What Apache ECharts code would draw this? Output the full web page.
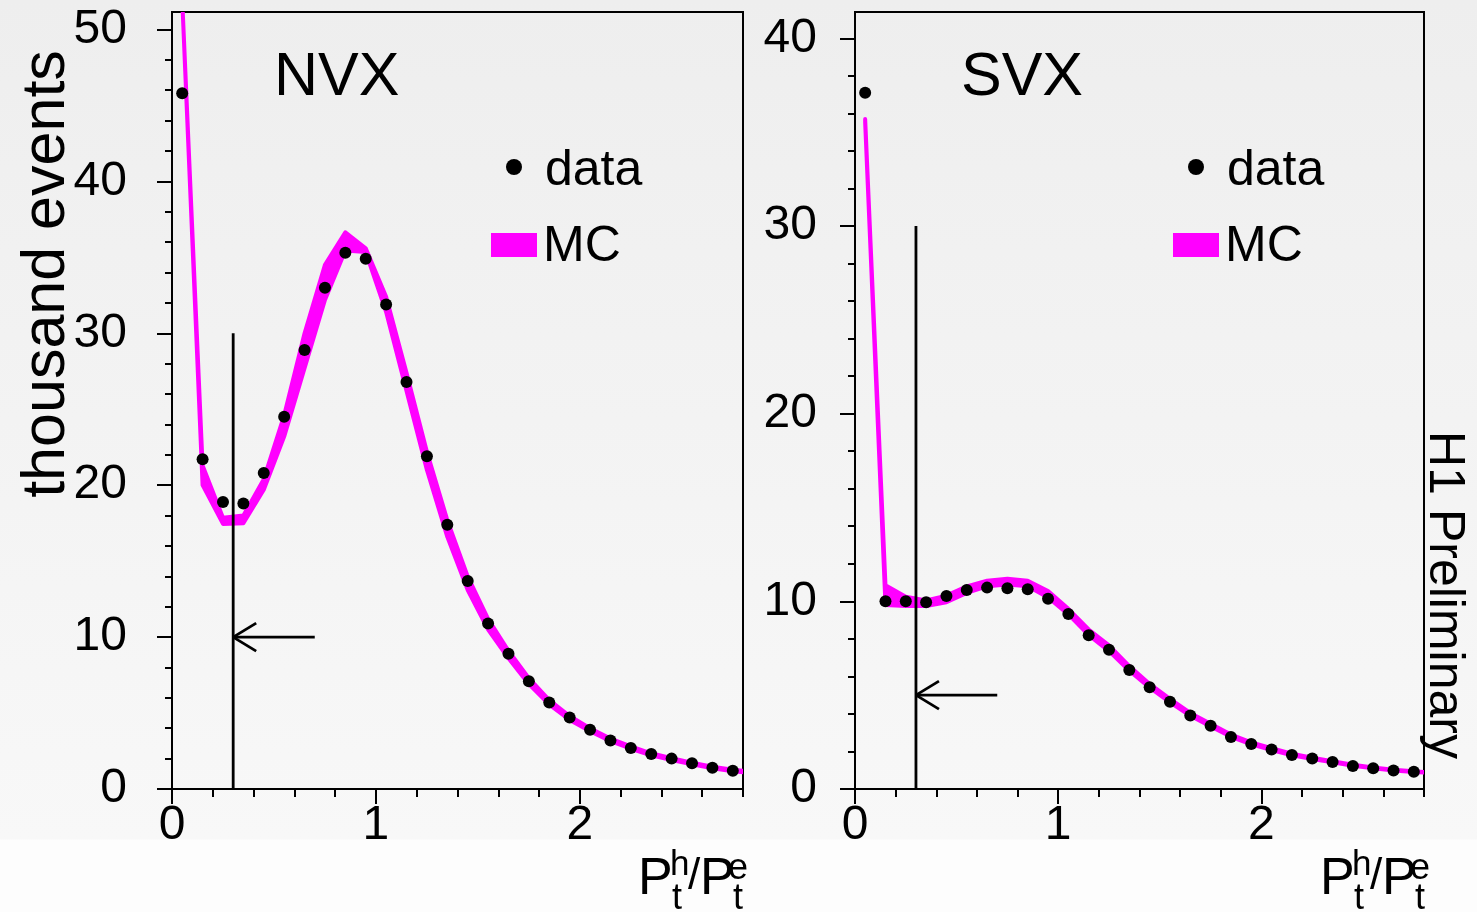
<!DOCTYPE html>
<html>
<head>
<meta charset="utf-8">
<script src="https://cdn.jsdelivr.net/npm/echarts@6/dist/echarts.min.js"></script>
<style>
  html, body { margin: 0; padding: 0; background: #fdfdfd; }
  #chart { width: 1477px; height: 912px; }
</style>
</head>
<body>
<div id="chart"></div>
<script>
// Bin centres of the Pt(h)/Pt(e) histograms (bin width 0.1)
const binCenters = [0.05, 0.15, 0.25, 0.35, 0.45, 0.55, 0.65, 0.75, 0.85, 0.95,
  1.05, 1.15, 1.25, 1.35, 1.45, 1.55, 1.65, 1.75, 1.85, 1.95,
  2.05, 2.15, 2.25, 2.35, 2.45, 2.55, 2.65, 2.75];
// MC band also carries the next bin so the band runs to the frame edge
const mcCenters = [0.05, 0.15, 0.25, 0.35, 0.45, 0.55, 0.65, 0.75, 0.85, 0.95,
  1.05, 1.15, 1.25, 1.35, 1.45, 1.55, 1.65, 1.75, 1.85, 1.95,
  2.05, 2.15, 2.25, 2.35, 2.45, 2.55, 2.65, 2.75, 2.85];

// NVX sample (thousand events)
const nvxData = [45.8, 21.7, 18.9, 18.8, 20.8, 24.5, 28.9, 33.0, 35.3, 34.9,
  31.9, 26.8, 21.9, 17.4, 13.7, 10.9, 8.9, 7.1, 5.7, 4.7,
  3.9, 3.2, 2.7, 2.3, 2.0, 1.7, 1.4, 1.2];
const nvxMcLow = [52, 20.0, 17.45, 17.5, 19.7, 23.2, 27.7, 32.2, 35.45, 35.35,
  31.4, 26.2, 21.0, 16.6, 13.1, 10.5, 8.6, 6.9, 5.55, 4.55,
  3.8, 3.15, 2.65, 2.22, 1.9, 1.62, 1.36, 1.17, 1.04];
const nvxMcHigh = [52, 21.3, 17.85, 18.0, 20.4, 24.6, 30.0, 34.5, 36.65, 35.6,
  32.4, 27.4, 22.2, 17.7, 14.0, 11.2, 9.1, 7.3, 5.85, 4.8,
  4.0, 3.32, 2.8, 2.35, 2.02, 1.73, 1.46, 1.27, 1.13];

// SVX sample (thousand events)
const svxData = [37.1, 10.0, 10.0, 9.95, 10.28, 10.6, 10.73, 10.7, 10.64, 10.14,
  9.32, 8.19, 7.42, 6.34, 5.42, 4.65, 3.92, 3.37, 2.77, 2.40,
  2.11, 1.81, 1.63, 1.44, 1.23, 1.10, 0.98, 0.92];
const svxMcLow = [35.5, 9.8, 9.75, 9.75, 9.95, 10.45, 10.8, 10.9, 10.8, 10.2,
  9.3, 8.2, 7.35, 6.3, 5.4, 4.62, 3.9, 3.33, 2.78, 2.38,
  2.08, 1.8, 1.6, 1.42, 1.24, 1.1, 0.98, 0.9, 0.85];
const svxMcHigh = [35.7, 10.85, 10.25, 10.05, 10.3, 10.8, 11.1, 11.2, 11.1, 10.55,
  9.6, 8.5, 7.65, 6.55, 5.6, 4.8, 4.05, 3.47, 2.9, 2.48,
  2.17, 1.88, 1.67, 1.48, 1.29, 1.15, 1.02, 0.94, 0.88];

// Axis ranges and tick values
const xMax = 2.8;
const xMajorTicks = [0, 1, 2];
const xMinorTicks = [0.2, 0.4, 0.6, 0.8, 1.2, 1.4, 1.6, 1.8, 2.2, 2.4, 2.6, 2.8];
const nvxYMax = 51.15;
const nvxYMajor = [0, 10, 20, 30, 40, 50];
const nvxYMinor = [2, 4, 6, 8, 12, 14, 16, 18, 22, 24, 26, 28, 32, 34, 36, 38, 42, 44, 46, 48];
const svxYMax = 41.4;
const svxYMajor = [0, 10, 20, 30, 40];
const svxYMinor = [2, 4, 6, 8, 12, 14, 16, 18, 22, 24, 26, 28, 32, 34, 36, 38];

// Selection cut at Pt(h)/Pt(e) > 0.3
const cutPosition = 0.3;
const cutLineTop = 30;
const arrowTail = 0.7;
const nvxArrowLevel = 10;
const svxArrowLevel = 5;

const FONT = '"Liberation Sans", Arial, Helvetica, sans-serif';
const MAGENTA = '#ff00ff';

const chart = echarts.init(document.getElementById('chart'), null, { renderer: 'canvas' });

function majorXAxis(gridIndex) {
  return {
    gridIndex, type: 'value', min: 0, max: xMax, position: 'bottom',
    axisLine: { lineStyle: { color: '#000', width: 2 } },
    axisTick: { customValues: xMajorTicks, length: 15, lineStyle: { color: '#000', width: 2 } },
    axisLabel: { customValues: xMajorTicks, margin: 13, fontSize: 48, color: '#000', fontFamily: FONT },
    splitLine: { show: false }
  };
}
function minorXAxis(gridIndex) {
  return {
    gridIndex, type: 'value', min: 0, max: xMax, position: 'bottom',
    axisLine: { show: false },
    axisTick: { customValues: xMinorTicks, length: 8, lineStyle: { color: '#000', width: 2 } },
    axisLabel: { show: false },
    splitLine: { show: false }
  };
}
function majorYAxis(gridIndex, max, ticks, margin) {
  return {
    gridIndex, type: 'value', min: 0, max, position: 'left',
    axisLine: { show: true, lineStyle: { color: '#000', width: 2 } },
    axisTick: { show: true, customValues: ticks, length: 15, lineStyle: { color: '#000', width: 2 } },
    axisLabel: { customValues: ticks, margin, fontSize: 48, color: '#000', fontFamily: FONT },
    splitLine: { show: false }
  };
}
function minorYAxis(gridIndex, max, ticks) {
  return {
    gridIndex, type: 'value', min: 0, max, position: 'left',
    axisLine: { show: false },
    axisTick: { show: true, customValues: ticks, length: 7, lineStyle: { color: '#000', width: 2 } },
    axisLabel: { show: false },
    splitLine: { show: false }
  };
}

// Filled MC uncertainty band between the low and high curves
function bandSeries(axisIndex, lows, highs) {
  return {
    type: 'custom',
    xAxisIndex: axisIndex, yAxisIndex: axisIndex,
    clip: true, silent: true, z: 3,
    data: [[mcCenters[0], lows[0]]],
    renderItem(params, api) {
      const pts = [];
      for (let i = 0; i < mcCenters.length; i++) pts.push(api.coord([mcCenters[i], highs[i]]));
      for (let i = mcCenters.length - 1; i >= 0; i--) pts.push(api.coord([mcCenters[i], lows[i]]));
      const cs = params.coordSys;
      return {
        type: 'polygon',
        shape: { points: pts },
        style: { fill: MAGENTA, stroke: MAGENTA, lineWidth: 4, lineJoin: 'round' },
        clipPath: { type: 'rect', shape: { x: cs.x, y: cs.y, width: cs.width, height: cs.height } }
      };
    }
  };
}

function dataSeries(axisIndex, values) {
  return {
    name: 'data', type: 'scatter',
    xAxisIndex: axisIndex, yAxisIndex: axisIndex,
    symbol: 'circle', symbolSize: 12, z: 5,
    itemStyle: { color: '#000', opacity: 1 },
    data: binCenters.map((x, i) => [x, values[i]])
  };
}

// Vertical cut line with an open arrow pointing towards it
function cutSeries(axisIndex, arrowLevel) {
  return {
    type: 'custom',
    xAxisIndex: axisIndex, yAxisIndex: axisIndex,
    silent: true, z: 4,
    data: [[cutPosition, cutLineTop, arrowLevel, arrowTail]],
    renderItem(params, api) {
      const base = api.coord([api.value(0), 0]);
      const top = api.coord([api.value(0), api.value(1)]);
      const tip = api.coord([api.value(0), api.value(2)]);
      const tail = api.coord([api.value(3), api.value(2)]);
      const st = { stroke: '#000', lineWidth: 2.8, fill: null };
      return {
        type: 'group',
        children: [
          { type: 'line', shape: { x1: base[0], y1: base[1], x2: top[0], y2: top[1] }, style: st },
          { type: 'line', shape: { x1: tip[0], y1: tip[1], x2: tail[0], y2: tail[1] }, style: st },
          { type: 'line', shape: { x1: tip[0], y1: tip[1], x2: tip[0] + 23, y2: tip[1] - 14 }, style: st },
          { type: 'line', shape: { x1: tip[0], y1: tip[1], x2: tip[0] + 23, y2: tip[1] + 14 }, style: st }
        ]
      };
    }
  };
}

function text(str, x, y, size, extra) {
  return {
    type: 'text', x, y, z: 20,
    style: Object.assign({ text: str, fill: '#000', fontFamily: FONT, fontSize: size,
      align: 'left', verticalAlign: 'middle' }, extra || {})
  };
}

// Title, legend and x-axis label for one panel, shifted horizontally by dx
function panelDecor(title, titleX, dx) {
  return [
    text(title, titleX, 78, 61),
    { type: 'circle', z: 20, shape: { cx: 514 + dx, cy: 167, r: 8 }, style: { fill: '#000' } },
    text('data', 545 + dx, 171, 50),
    { type: 'rect', z: 20, shape: { x: 491 + dx, y: 233, width: 46, height: 24 }, style: { fill: MAGENTA } },
    text('MC', 543 + dx, 247, 50),
    text('P', 638 + dx, 880, 52),
    text('h', 670 + dx, 865, 35),
    text('t', 672 + dx, 899, 36),
    text('/', 688 + dx, 877, 44),
    text('P', 700 + dx, 880, 52),
    text('e', 728 + dx, 869, 36),
    text('t', 733 + dx, 899, 36)
  ];
}

const yTitle = text('thousand events', 47, 274, 61, { align: 'center' });
yTitle.rotation = Math.PI / 2;
const sideNote = text('H1 Preliminary', 1444, 595, 50, { align: 'center' });
sideNote.rotation = -Math.PI / 2;

const option = {
  animation: false,
  backgroundColor: {
    type: 'linear', x: 0, y: 0, x2: 0, y2: 1,
    colorStops: [
      { offset: 0, color: '#eeeeee' },
      { offset: 0.92, color: '#f8f8f8' },
      { offset: 0.921, color: '#fdfdfd' },
      { offset: 1, color: '#fdfdfd' }
    ]
  },
  grid: [
    { left: 172, top: 12, width: 571, height: 777, show: true, borderColor: '#000', borderWidth: 2, backgroundColor: 'transparent', containLabel: false },
    { left: 855, top: 12, width: 569, height: 777, show: true, borderColor: '#000', borderWidth: 2, backgroundColor: 'transparent', containLabel: false }
  ],
  xAxis: [majorXAxis(0), majorXAxis(1), minorXAxis(0), minorXAxis(1)],
  yAxis: [
    majorYAxis(0, nvxYMax, nvxYMajor, 45),
    majorYAxis(1, svxYMax, svxYMajor, 38),
    minorYAxis(0, nvxYMax, nvxYMinor),
    minorYAxis(1, svxYMax, svxYMinor)
  ],
  series: [
    bandSeries(0, nvxMcLow, nvxMcHigh),
    bandSeries(1, svxMcLow, svxMcHigh),
    cutSeries(0, nvxArrowLevel),
    cutSeries(1, svxArrowLevel),
    dataSeries(0, nvxData),
    dataSeries(1, svxData)
  ],
  graphic: [].concat(
    panelDecor('NVX', 274, 0),
    panelDecor('SVX', 961, 682),
    [yTitle, sideNote]
  )
};

chart.setOption(option);
</script>
</body>
</html>
